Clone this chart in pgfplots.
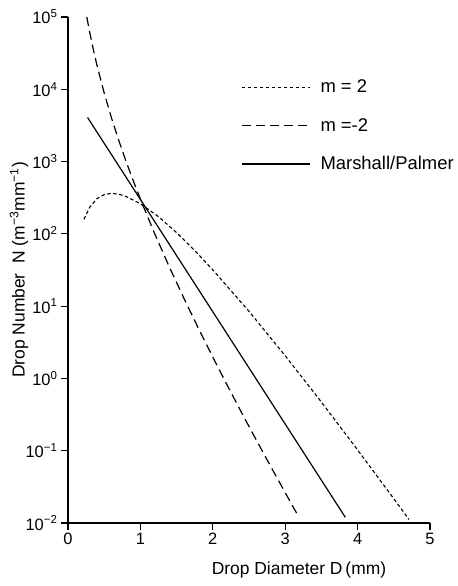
\documentclass[border=0pt]{standalone}
\usepackage{fontspec}
\setmainfont{Liberation Sans}
\usepackage{pgfplots}
\pgfplotsset{compat=1.18}
\newcommand{\tp}[1]{10\textsuperscript{#1}}
\begin{document}
\begin{tikzpicture}
\path[use as bounding box] (0,0) rectangle (458bp,586bp);
\begin{axis}[
    at={(68bp,63bp)}, anchor=south west,
    scale only axis, width=362bp, height=506bp,
    xmin=0, xmax=5,
    ymode=log, ymin=1e-2, ymax=1e5,
    axis x line=bottom, axis y line=left,
    axis line style={-, line width=1.2bp},
    tick align=outside, major tick length=7bp,
    every tick/.style={black, line width=1.2bp},
    yminorticks=false,
    xtick={0,1,2,3,4,5}, xticklabels={0,1,2,3,4,5},
    ytick={1e-2,1e-1,1,1e1,1e2,1e3,1e4,1e5},
    yticklabels={\tp{−2},\tp{−1},\tp{0},\tp{1},\tp{2},\tp{3},\tp{4},\tp{5}},
    tick label style={font=\fontsize{16.5}{18}\selectfont},
    xlabel={Drop Diameter D\,(mm)},
    ylabel={Drop Number\ \ N\ (m\textsuperscript{−3}mm\textsuperscript{−1})},
    label style={font=\fontsize{17.5}{20}\selectfont},
    xlabel style={at={(axis description cs:0.638,-0.093)}, anchor=center},
    ylabel style={at={(axis description cs:-0.135,0.5)}, anchor=center},
    legend cell align=left,
    legend style={draw=none, fill=none, at={(axis description cs:0.47,0.884)},
      anchor=north west, font=\fontsize{18.5}{20}\selectfont, row sep=20bp},
    legend image code/.code={\draw[#1] (0bp,0bp) -- (68bp,0bp); \path (76bp,0bp);},
]
% m = 2
\addplot[black, line width=1.1bp, dash pattern=on 3.5bp off 2.5bp] coordinates {
    (0.22,159)(0.3,234)(0.4,307)(0.5,349)(0.6,363)(0.7,354)(0.8,330)
    (1.0,261)(1.25,173)(1.5,104)(1.75,58.8)(2.0,31.8)(2.5,8.47)
    (3.0,2.06)(3.5,0.471)(4.0,0.1026)(4.5,0.0217)(4.71,0.0112)
};
\addlegendentry{m = 2}
% m = -2
\addplot[black, line width=1.2bp, dash pattern=on 9bp off 5bp] coordinates {
    (0.26,99800)(0.3,61200)(0.35,35400)(0.4,21500)(0.5,8870)(0.6,4040)
    (0.7,1980)(0.8,1020)(0.9,547)(1.0,302)(1.2,99.0)(1.4,34.8)(1.6,12.9)
    (1.8,4.96)(2.0,1.97)(2.2,0.802)(2.4,0.333)(2.6,0.141)(2.8,0.0605)
    (3.0,0.0263)(3.19,0.0120)
};
\addlegendentry{m =-2}
% Marshall/Palmer
\addplot[black, line width=1.2bp] coordinates {
    (0.27,4074)(3.83,0.0120)
};
\addlegendentry{Marshall/Palmer}
\end{axis}
\end{tikzpicture}
\end{document}
